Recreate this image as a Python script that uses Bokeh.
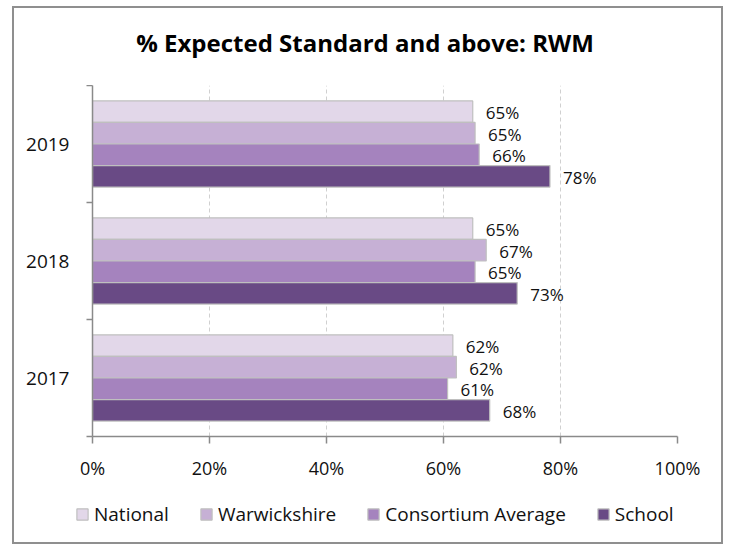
from bokeh.plotting import figure
from bokeh.models import Range1d, FixedTicker, Legend, LegendItem, ColumnDataSource, Column, Row, Label
from bokeh.embed import file_html
from bokeh.resources import INLINE

years = ["2017", "2018", "2019"]
series_names = ["National", "Warwickshire", "Consortium Average", "School"]
national = [61.6, 65.0, 65.0]
warwickshire = [62.2, 67.3, 65.4]
consortium = [60.7, 65.4, 66.1]
school = [67.9, 72.6, 78.2]
x_ticks = [0, 20, 40, 60, 80, 100]
title_text = "% Expected Standard and above: RWM"

colors = ["#E2D7E9", "#C6B0D5", "#A583BE", "#694A85"]
offsets = [0.276, 0.092, -0.092, -0.276]
FONT = "Open Sans"
W = 707


def strip(height):
    f = figure(width=W, height=height, output_backend="svg", toolbar_location=None,
               x_range=Range1d(0, W), y_range=Range1d(0, height),
               min_border=0, min_border_left=0, min_border_right=0,
               min_border_top=0, min_border_bottom=0)
    f.axis.visible = False
    f.grid.visible = False
    f.outline_line_color = None
    return f


# title strip
tf = strip(77)
tf.add_layout(Label(x=W / 2 - 3, y=43, text=title_text, text_align="center",
                    text_baseline="alphabetic", text_font=FONT, text_font_style="bold",
                    text_font_size="24px", text_color="#000000"))

p = figure(width=W, height=397, output_backend="svg", toolbar_location=None,
           x_range=Range1d(0, 100), y_range=Range1d(0, 3),
           min_border_left=78, min_border_right=44, min_border_top=0, min_border_bottom=46)
p.outline_line_color = None

# legend strip (separate plot so the legend is not clipped by the chart frame)
lg = figure(width=W, height=60, output_backend="svg", toolbar_location=None,
            x_range=Range1d(0, 100), y_range=Range1d(10, 11),
            min_border=0, min_border_left=0, min_border_right=0,
            min_border_top=0, min_border_bottom=0)
lg.axis.visible = False
lg.grid.visible = False
lg.outline_line_color = None

all_series = [national, warwickshire, consortium, school]
items = []
for name, vals, col, off in zip(series_names, all_series, colors, offsets):
    src = ColumnDataSource(dict(
        y=[i + 0.5 + off for i in range(len(years))],
        v=vals,
        lab=[f"{v:.0f}%" for v in vals],
    ))
    p.hbar(y="y", left=0, right="v", height=0.184, source=src,
           fill_color=col, line_color="#BFBFBF", line_width=1.2)
    p.text(x="v", y="y", text="lab", source=src, x_offset=13, y_offset=1,
           text_baseline="middle", text_align="left", text_font_size="17px",
           text_font={"value": FONT}, text_color="#111111")
    # same bars in the legend strip (out of its view), used only for the swatches
    r = lg.hbar(y="y", left=0, right="v", height=0.184, source=src,
                fill_color=col, line_color="#BFBFBF", line_width=1.2)
    items.append(LegendItem(label=name, renderers=[r]))

# x axis
xa = p.xaxis[0]
xa.ticker = FixedTicker(ticks=x_ticks)
xa.major_label_overrides = {t: f"{t}%" for t in x_ticks}
xa.axis_line_color = "#8a8a8a"
xa.axis_line_width = 1.5
xa.major_tick_line_color = "#8a8a8a"
xa.major_tick_line_width = 1.5
xa.major_tick_out = 7
xa.major_tick_in = 0
xa.minor_tick_line_color = None
xa.major_label_standoff = 12
xa.major_label_text_font = FONT
xa.major_label_text_font_size = "18px"
xa.major_label_text_color = "#111111"

# y axis
ya = p.yaxis[0]
ya.ticker = FixedTicker(ticks=[i + 0.5 for i in range(len(years))],
                        minor_ticks=list(range(len(years) + 1)))
ya.major_label_overrides = {i + 0.5: y for i, y in enumerate(years)}
ya.axis_line_color = "#8a8a8a"
ya.axis_line_width = 1.5
ya.major_tick_line_color = None
ya.major_tick_out = 0
ya.minor_tick_line_color = "#8a8a8a"
ya.minor_tick_line_width = 1.5
ya.minor_tick_out = 6
ya.minor_tick_in = 0
ya.major_label_standoff = 17
ya.major_label_text_font = FONT
ya.major_label_text_font_size = "19px"
ya.major_label_text_color = "#111111"

p.xgrid.ticker = FixedTicker(ticks=x_ticks[1:])
p.xgrid.grid_line_color = "#D0D0D0"
p.xgrid.grid_line_dash = "4 3"
p.xgrid.grid_line_width = 1
p.ygrid.grid_line_color = None

legend = Legend(items=items, orientation="horizontal", location=(61, 15),
                glyph_width=14, glyph_height=14, label_standoff=5, spacing=30,
                padding=0, margin=0, border_line_color=None, background_fill_alpha=0,
                label_text_font=FONT, label_text_font_size="19px", label_text_color="#111111",
                label_height=20)
lg.add_layout(legend, "center")

layout = Column(children=[Row(children=[tf]), p, Row(children=[lg])], spacing=0,
                styles={"border": "2px solid #8f8f8f", "margin-left": "12px", "margin-top": "6px"})

open("out.html", "w").write(file_html(layout, INLINE))
